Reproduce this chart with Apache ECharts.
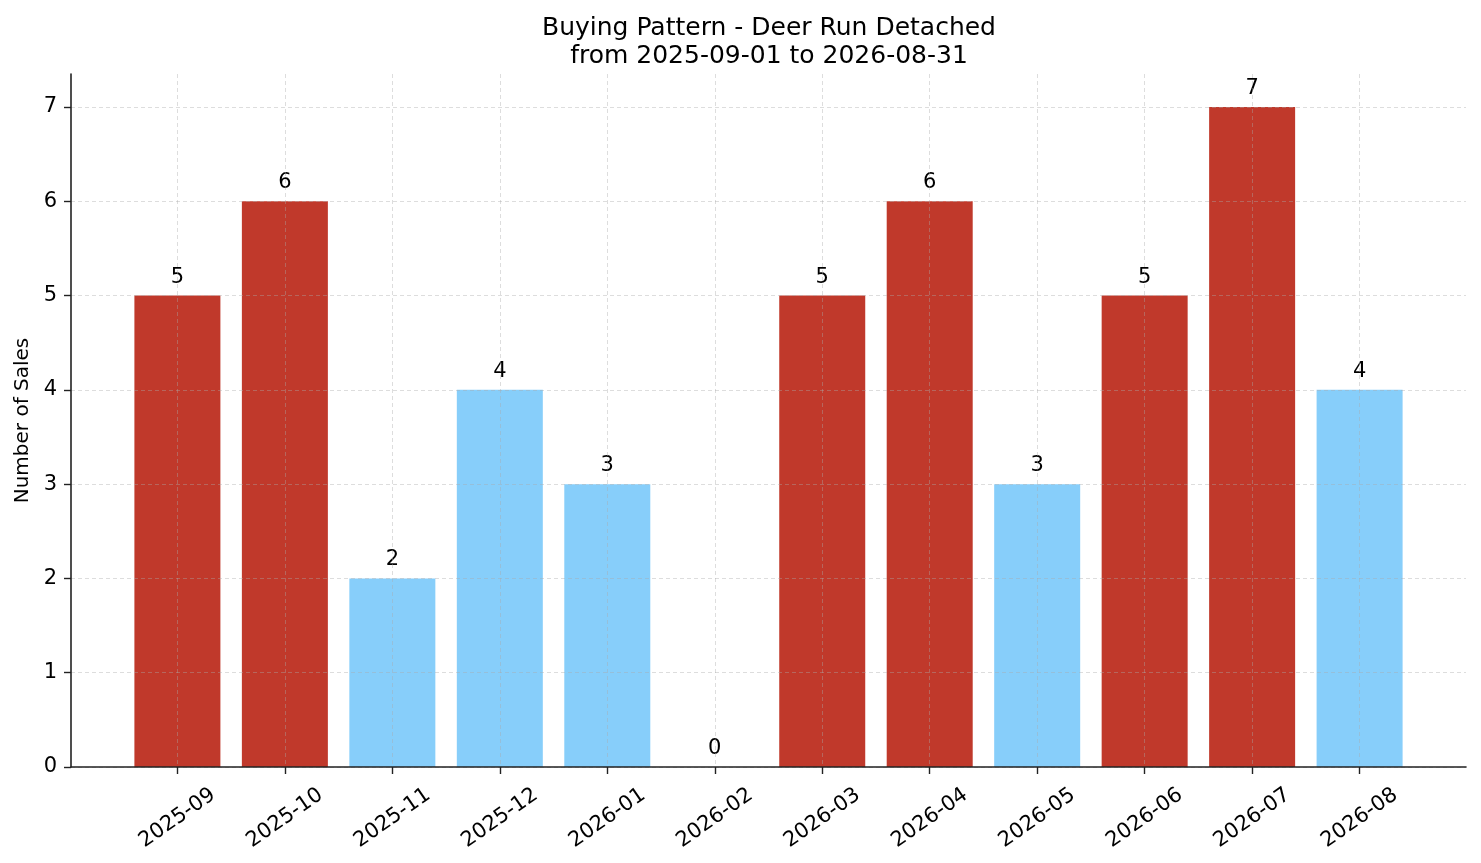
<!DOCTYPE html>
<html>
<head>
<meta charset="utf-8">
<script src="https://cdn.jsdelivr.net/npm/echarts@6/dist/echarts.min.js"></script>
<style>
  html, body { margin: 0; padding: 0; background: #fff; }
  #main { width: 1481px; height: 863px; }
</style>
</head>
<body>
<div id="main"></div>
<script>
var myChart = echarts.init(document.getElementById('main'));

var months = ['2025-09', '2025-10', '2025-11', '2025-12', '2026-01', '2026-02',
              '2026-03', '2026-04', '2026-05', '2026-06', '2026-07', '2026-08'];
var sales = [5, 6, 2, 4, 3, 0, 5, 6, 3, 5, 7, 4];
var yTicks = [0, 1, 2, 3, 4, 5, 6, 7];

var HIGH = '#c0392b', LOW = '#87cefa';
var avg = sales.reduce(function (a, b) { return a + b; }, 0) / sales.length;
var idx = months.map(function (m, i) { return i; });

var font = 'DejaVu Sans';
var gridLine = { show: true, lineStyle: { color: 'rgba(170,170,170,0.5)', width: 0.8, type: [4, 3] } };

var option = {
  animation: false,
  textStyle: { fontFamily: font },
  title: {
    text: 'Buying Pattern - Deer Run Detached\nfrom 2025-09-01 to 2026-08-31',
    left: 764,
    top: 9,
    textAlign: 'center',
    textStyle: { fontFamily: font, fontSize: 25, fontWeight: 'normal', color: '#000', lineHeight: 28 }
  },
  grid: { left: 71, right: 15, top: 74, bottom: 96, containLabel: false },
  xAxis: {
    type: 'value',
    min: -0.99,
    max: 11.99,
    z: 5,
    axisLine: { show: true, onZero: false, lineStyle: { color: '#222', width: 1.6 } },
    axisTick: { show: true, length: 7, customValues: idx, lineStyle: { color: '#222', width: 1.4 } },
    axisLabel: {
      customValues: idx,
      rotate: 35,
      align: 'center',
      verticalAlign: 'middle',
      margin: 51,
      fontSize: 21,
      color: '#000',
      fontFamily: font,
      formatter: function (v) { return months[Math.round(v)]; }
    },
    splitLine: gridLine
  },
  yAxis: {
    type: 'value',
    min: 0,
    max: 7.35,
    z: 5,
    name: 'Number of Sales',
    nameLocation: 'middle',
    nameRotate: 90,
    nameGap: 38,
    nameTextStyle: { fontFamily: font, fontSize: 20, color: '#000' },
    axisLine: { show: true, onZero: false, lineStyle: { color: '#222', width: 1.6 } },
    axisTick: { show: true, length: 7, customValues: yTicks, lineStyle: { color: '#222', width: 1.4 } },
    axisLabel: { customValues: yTicks, margin: 14, fontSize: 21, color: '#000', fontFamily: font },
    splitLine: gridLine
  },
  series: [{
    type: 'bar',
    barWidth: 86,
    data: sales.map(function (v, i) {
      return { value: [i, v], itemStyle: { color: v > avg ? HIGH : LOW } };
    }),
    label: {
      show: true,
      position: 'top',
      distance: 8,
      fontSize: 21,
      color: '#000',
      fontFamily: font,
      formatter: function (p) { return p.value[1]; }
    }
  }]
};
myChart.setOption(option);
</script>
</body>
</html>
